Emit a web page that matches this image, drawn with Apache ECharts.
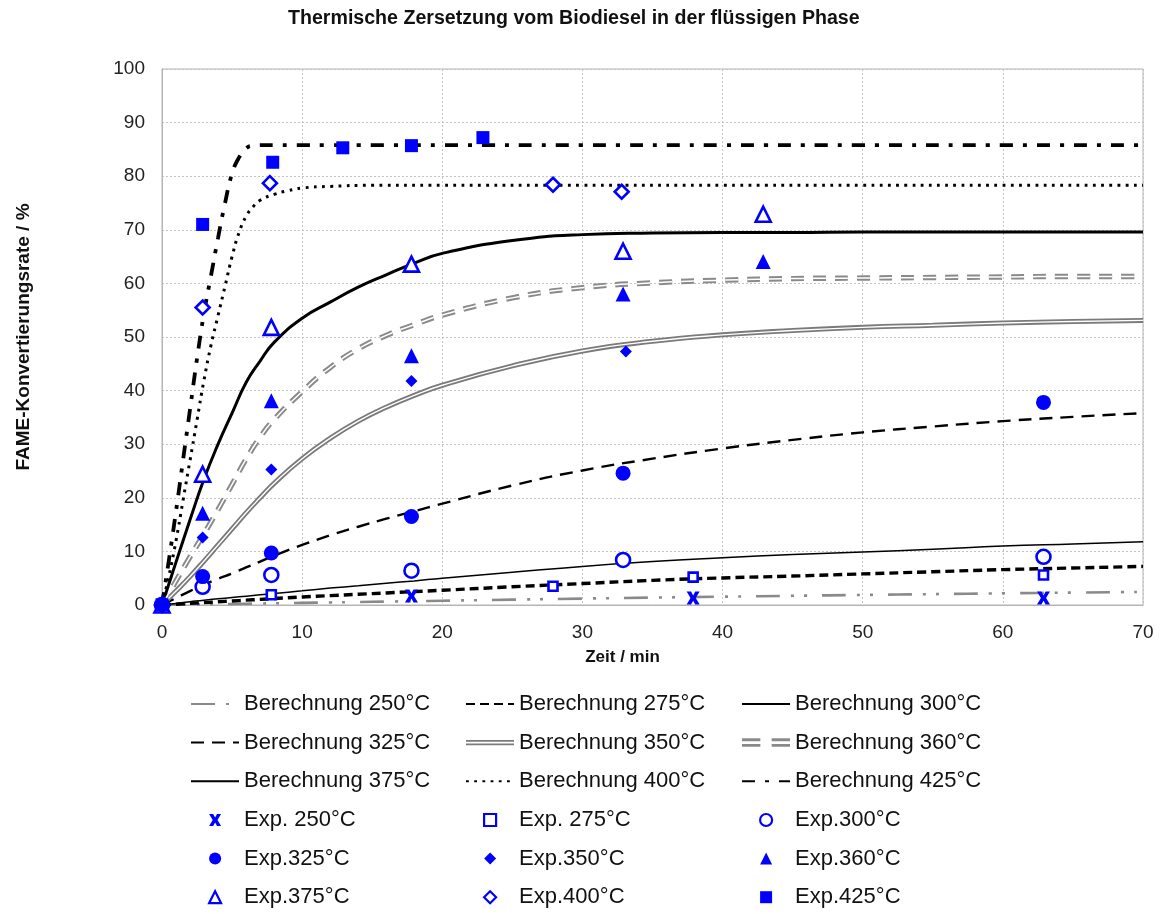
<!DOCTYPE html>
<html>
<head>
<meta charset="utf-8">
<script src="https://cdn.jsdelivr.net/npm/echarts@6/dist/echarts.min.js"></script>
<style>
  html, body { margin: 0; padding: 0; background: #ffffff; }
  #chart { width: 1163px; height: 914px; }
</style>
</head>
<body>
<div id="chart"></div>
<script>
// ---- calculated curves (Berechnung) ----
const timeFast = [0, 0.5, 1, 1.5, 2, 2.5, 3, 3.5, 4, 4.5, 5, 5.5, 6, 6.5, 7, 8, 9, 10, 12, 15, 20, 30, 40, 50, 60, 70];
const calc400 = [0, 5.5, 12, 19.5, 27, 34.5, 42, 48.5, 54, 59.5, 65, 69.5, 72.5, 74.3, 75.5, 76.6, 77.3, 77.8, 78.1, 78.3, 78.3, 78.3, 78.3, 78.3, 78.3, 78.3];
const calc425 = [0, 8.5, 17.5, 27, 36.5, 46, 54.5, 61.5, 68.5, 75, 80.5, 83.5, 85.2, 85.7, 85.8, 85.8, 85.8, 85.8, 85.8, 85.8, 85.8, 85.8, 85.8, 85.8, 85.8, 85.8];

const timeCalc = [0, 1, 2, 3, 4, 5, 6, 7, 8, 10, 12, 14, 16, 18, 20, 25, 30, 35, 40, 45, 50, 55, 60, 65, 70];
const calc250 = [0, 0.04, 0.08, 0.12, 0.16, 0.2, 0.24, 0.28, 0.32, 0.4, 0.48, 0.56, 0.64, 0.72, 0.8, 1.0, 1.2, 1.38, 1.55, 1.72, 1.88, 2.03, 2.18, 2.32, 2.45];
const calc275 = [0, 0.15, 0.3, 0.45, 0.6, 0.75, 0.9, 1.05, 1.2, 1.5, 1.75, 2.0, 2.25, 2.5, 2.75, 3.4, 4.0, 4.6, 5.05, 5.4, 5.8, 6.2, 6.6, 6.9, 7.2];
const calc300 = [0, 0.3, 0.6, 0.9, 1.15, 1.4, 1.65, 1.9, 2.15, 2.65, 3.15, 3.6, 4.05, 4.5, 5.0, 6.1, 7.2, 8.1, 8.8, 9.4, 9.9, 10.4, 11.0, 11.4, 11.8];
const calc325 = [0, 1.3, 2.6, 3.8, 4.9, 5.9, 7.0, 8.1, 9.2, 11.2, 13.0, 14.6, 16.1, 17.5, 18.9, 22.3, 25.1, 27.3, 29.2, 30.8, 32.2, 33.3, 34.3, 35.1, 35.8];
const calc350 = [0, 2.6, 5.3, 8.2, 11.2, 14.2, 17.2, 20.0, 22.7, 27.3, 31.1, 34.3, 36.9, 39.1, 41.0, 44.6, 47.4, 49.2, 50.4, 51.2, 51.8, 52.2, 52.6, 52.9, 53.1];
const calc360 = [0, 4.5, 9.0, 13.3, 17.8, 22.5, 27.2, 31.3, 34.6, 39.8, 44.3, 47.8, 50.3, 52.3, 54.1, 57.3, 59.2, 60.1, 60.6, 60.9, 61.0, 61.1, 61.2, 61.3, 61.3];
const calc375 = [0, 8.0, 15.9, 23.5, 30.0, 35.8, 41.5, 45.5, 49.0, 53.5, 56.5, 59.3, 61.6, 63.8, 65.6, 68.0, 69.1, 69.4, 69.5, 69.5, 69.6, 69.6, 69.6, 69.6, 69.6];

// ---- experimental points (Exp.) : [Zeit, Rate] ----
const exp250 = [[0, 0], [17.8, 1.7], [37.9, 1.3], [62.9, 1.3]];
const exp275 = [[0, 0], [7.8, 1.9], [27.9, 3.5], [37.9, 5.2], [62.9, 5.6]];
const exp300 = [[0, 0], [2.9, 3.4], [7.8, 5.6], [17.8, 6.4], [32.9, 8.4], [62.9, 9.0]];
const exp325 = [[0, 0], [2.9, 5.3], [7.8, 9.7], [17.8, 16.5], [32.9, 24.6], [62.9, 37.8]];
const exp350 = [[0, 0], [2.9, 12.6], [7.8, 25.3], [17.8, 41.8], [33.1, 47.3]];
const exp360 = [[0, 0], [2.9, 17.1], [7.8, 38.1], [17.8, 46.5], [32.9, 58.0], [42.9, 64.1]];
const exp375 = [[0, 0], [2.9, 24.4], [7.8, 51.8], [17.8, 63.6], [32.9, 66.0], [42.9, 72.9]];
const exp400 = [[0, 0], [2.9, 55.5], [7.7, 78.7], [27.9, 78.4], [32.8, 77.1]];
const exp425 = [[0, 0], [2.9, 71.0], [7.9, 82.6], [12.9, 85.3], [17.8, 85.7], [22.9, 87.2]];

// ---- axis ticks ----
const xTicks = [0, 10, 20, 30, 40, 50, 60, 70];
const yTicks = [0, 10, 20, 30, 40, 50, 60, 70, 80, 90, 100];

const FONT = 'Liberation Sans, Arial, sans-serif';
const BLUE = '#0000ff';

function pairs(t, v) { return t.map((x, i) => [x, v[i]]); }

function calcLine(name, t, v, color, width, dash, extra) {
  return Object.assign({
    name: name,
    type: 'line',
    data: pairs(t, v),
    smooth: 0.5,
    symbol: 'none',
    color: color,
    lineStyle: { color: color, width: width, type: dash || 'solid', cap: 'butt' },
    z: 2,
    silent: true
  }, extra || {});
}

const X_MARK = 'path://M0,0L3.4,0L5,3L6.6,0L10,0L7,5L10,10L6.6,10L5,7L3.4,10L0,10L3,5Z';

function expPoints(name, data, symbol, size, open) {
  return {
    name: name,
    type: 'scatter',
    data: data,
    symbol: symbol,
    symbolSize: size,
    color: BLUE,
    itemStyle: open
      ? { color: '#ffffff', borderColor: BLUE, borderWidth: 2.6, opacity: 1 }
      : { color: BLUE, borderWidth: 0, opacity: 1 },
    z: 5,
    silent: true
  };
}

const series = [
  calcLine('Berechnung 250°C', timeCalc, calc250, '#8a8a8a', 2.6, [24, 11, 3, 10, 3, 15]),
  calcLine('Berechnung 275°C', timeCalc, calc275, '#000000', 3.4, [9, 5]),
  calcLine('Berechnung 300°C', timeCalc, calc300, '#000000', 1.5),
  calcLine('Berechnung 325°C', timeCalc, calc325, '#000000', 2.4, [13, 8]),
  calcLine('Berechnung 350°C', timeCalc, calc350, '#7a7a7a', 5),
  calcLine('Berechnung 350°C', timeCalc, calc350, '#ffffff', 1.4, null, { z: 3 }),
  calcLine('Berechnung 360°C', timeCalc, calc360, '#8a8a8a', 5.4, [13, 9]),
  calcLine('Berechnung 360°C', timeCalc, calc360, '#ffffff', 1.5, [13, 9], { z: 3 }),
  calcLine('Berechnung 375°C', timeCalc, calc375, '#000000', 3),
  calcLine('Berechnung 400°C', timeFast, calc400, '#000000', 3, [2.8, 5.4]),
  calcLine('Berechnung 425°C', timeFast, calc425, '#000000', 3.8, [13, 10, 4, 10]),
  expPoints('Exp. 250°C', exp250, X_MARK, 13, false),
  expPoints('Exp. 275°C', exp275, 'rect', 9, true),
  expPoints('Exp.300°C', exp300, 'circle', 14, true),
  expPoints('Exp.325°C', exp325, 'circle', 15, false),
  expPoints('Exp.350°C', exp350, 'diamond', 12, false),
  expPoints('Exp.360°C', exp360, 'triangle', 15, false),
  expPoints('Exp.375°C', exp375, 'triangle', 15, true),
  expPoints('Exp.400°C', exp400, 'diamond', 14, true),
  expPoints('Exp.425°C', exp425, 'rect', 13, false)
];

const DOUBLE_ICON = 'path://M0,0H48V1.8H0ZM0,3.6H48V5.4H0Z';
const DOUBLE_DASH_ICON = 'path://M0,0H13V2H0ZM0,4H13V6H0ZM21,0H34V2H21ZM21,4H34V6H21Z';

const legendText = { fontFamily: FONT, fontSize: 22, color: '#111111', lineHeight: 22 };

// Line legends: sample line only (the symbol slot is hidden)
function lineLegend(left, items) {
  return {
    orient: 'vertical',
    left: left,
    top: 693,
    padding: 0,
    itemWidth: 48,
    itemHeight: 14,
    itemGap: 16.6,
    selectedMode: false,
    itemStyle: { opacity: 0 },
    textStyle: legendText,
    data: items
  };
}

// Marker legends: small icon centred under the line samples, text aligned with them
function markerLegend(left, items) {
  return {
    orient: 'vertical',
    left: left,
    top: 809,
    padding: 0,
    itemWidth: 12,
    itemHeight: 12,
    itemGap: 16.6,
    selectedMode: false,
    textStyle: Object.assign({ padding: [0, 0, 0, 18] }, legendText),
    data: items
  };
}

const openStyle = { color: '#ffffff', borderColor: BLUE, borderWidth: 2.2, opacity: 1 };
const shown = { opacity: 1 };

const legends = [
  lineLegend(190, ['Berechnung 250°C', 'Berechnung 325°C', 'Berechnung 375°C']),
  lineLegend(465, ['Berechnung 275°C', { name: 'Berechnung 350°C', icon: DOUBLE_ICON, itemStyle: shown }, 'Berechnung 400°C']),
  lineLegend(741, ['Berechnung 300°C', { name: 'Berechnung 360°C', icon: DOUBLE_DASH_ICON, itemStyle: shown }, 'Berechnung 425°C']),
  markerLegend(208, ['Exp. 250°C', 'Exp.325°C', { name: 'Exp.375°C', itemStyle: openStyle }]),
  markerLegend(483, [{ name: 'Exp. 275°C', itemStyle: openStyle }, 'Exp.350°C', { name: 'Exp.400°C', itemStyle: openStyle }]),
  markerLegend(759, [{ name: 'Exp.300°C', itemStyle: openStyle }, 'Exp.360°C', 'Exp.425°C'])
];

const gridLine = { show: true, lineStyle: { color: '#c4c4c4', width: 1, type: [2, 2] } };

const option = {
  backgroundColor: '#ffffff',
  animation: false,
  title: {
    text: 'Thermische Zersetzung vom Biodiesel in der flüssigen Phase',
    left: 288,
    top: 9,
    padding: 0,
    textStyle: { fontFamily: FONT, fontSize: 19.6, fontWeight: 'bold', color: '#111111' }
  },
  legend: legends,
  grid: {
    left: 162, right: 20, top: 69, bottom: 309,
    show: true, borderColor: '#b4b4b4', borderWidth: 1, backgroundColor: 'transparent',
    containLabel: false
  },
  xAxis: {
    type: 'value',
    min: xTicks[0], max: xTicks[xTicks.length - 1], interval: 10,
    name: 'Zeit / min',
    nameLocation: 'middle',
    nameGap: 44,
    nameTextStyle: { fontFamily: FONT, fontSize: 17, fontWeight: 'bold', color: '#111111', padding: [0, 60, 0, 0] },
    axisLine: { show: true, onZero: false, lineStyle: { color: '#b4b4b4', width: 1 } },
    axisTick: { show: false },
    axisLabel: { fontFamily: FONT, fontSize: 19, color: '#222222', margin: 18 },
    splitLine: gridLine
  },
  yAxis: {
    type: 'value',
    min: yTicks[0], max: yTicks[yTicks.length - 1], interval: 10,
    name: 'FAME-Konvertierungsrate / %',
    nameLocation: 'middle',
    nameRotate: 90,
    nameGap: 129,
    nameTextStyle: { fontFamily: FONT, fontSize: 19, fontWeight: 'bold', color: '#111111' },
    axisLine: { show: true, lineStyle: { color: '#b4b4b4', width: 1 } },
    axisTick: { show: false },
    axisLabel: { fontFamily: FONT, fontSize: 19, color: '#222222', margin: 17 },
    splitLine: gridLine
  },
  series: series
};

const chart = echarts.init(document.getElementById('chart'), null, { renderer: 'canvas' });
chart.setOption(option);
</script>
</body>
</html>
